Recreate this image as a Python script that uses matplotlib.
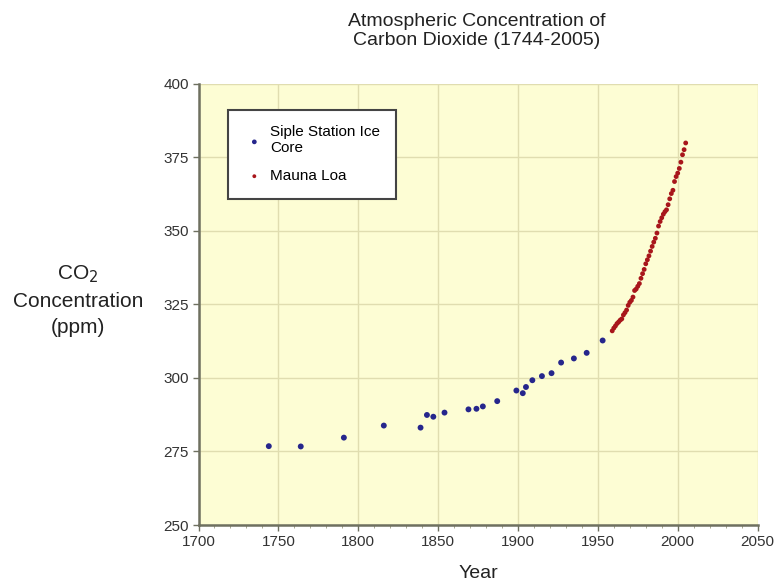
import numpy as np
import matplotlib
matplotlib.use('Agg')
import matplotlib.pyplot as plt
from matplotlib.ticker import MultipleLocator

plt.rcParams['font.family'] = ['Liberation Sans', 'DejaVu Sans']

# Siple Station ice core
siple_years = [1744, 1764, 1791, 1816, 1839, 1843, 1847, 1854, 1869, 1874, 1878,
               1887, 1899, 1903, 1905, 1909, 1915, 1921, 1927, 1935, 1943, 1953]
siple_ppm = [276.8, 276.7, 279.7, 283.8, 283.1, 287.4, 286.8, 288.2, 289.3, 289.5, 290.3,
             292.1, 295.7, 294.8, 296.9, 299.2, 300.6, 301.6, 305.2, 306.6, 308.5, 312.7]

# Mauna Loa annual means
mauna_years = list(range(1959, 2006))
mauna_ppm = [315.97, 316.91, 317.64, 318.45, 318.99, 319.62, 320.04, 321.38, 322.16, 323.04,
             324.62, 325.68, 326.32, 327.45, 329.68, 330.18, 331.11, 332.04, 333.83, 335.40,
             336.84, 338.75, 340.11, 341.45, 343.05, 344.65, 346.12, 347.42, 349.19, 351.57,
             353.12, 354.39, 355.61, 356.45, 357.10, 358.83, 360.82, 362.61, 363.73, 366.70,
             368.38, 369.55, 371.14, 373.28, 375.80, 377.52, 379.80]

fig = plt.figure(figsize=(7.77, 5.86), dpi=100)
ax = fig.add_axes([0.2555, 0.104, 0.7195, 0.7535])
ax.set_facecolor('#fdfdd4')

ax.scatter(siple_years, siple_ppm, s=18, color='#26268c', edgecolors='none',
           label='Siple Station Ice\nCore', zorder=3)
ax.scatter(mauna_years, mauna_ppm, s=12, color='#a8161b', edgecolors='none',
           label='Mauna Loa', zorder=3)

ax.set_xlim(1700, 2050)
ax.set_ylim(250, 400)
ax.set_xticks(np.arange(1700, 2051, 50))
ax.set_yticks(np.arange(250, 401, 25))
ax.xaxis.set_minor_locator(MultipleLocator(10))
ax.grid(True, color='#e0ddb0', linewidth=1)
ax.set_axisbelow(True)

for s in ['top', 'right']:
    ax.spines[s].set_visible(False)
for s in ['left', 'bottom']:
    ax.spines[s].set_color('#6e7060')
    ax.spines[s].set_linewidth(1.8)
ax.tick_params(colors='#6e7060', labelcolor='#333333', labelsize=11, length=4, width=1, pad=3)
ax.tick_params(axis='x', which='minor', length=2, colors='#9a9a80')

ax.set_xlabel('Year', fontsize=14, color='#222222', labelpad=12)
fig.text(0.1, 0.488, 'CO$_2$\nConcentration\n(ppm)', ha='center', va='center',
         fontsize=15, color='#222222', linespacing=1.45)
fig.text(0.613, 0.947, 'Atmospheric Concentration of\nCarbon Dioxide (1744-2005)',
         ha='center', va='center', fontsize=14, color='#222222', linespacing=1.1)

leg = ax.legend(loc='upper left', bbox_to_anchor=(0.052, 0.94), fontsize=11,
                frameon=True, fancybox=False, markerscale=0.8, handletextpad=0.3,
                handlelength=1.5, borderpad=1.0, labelspacing=0.9, borderaxespad=0)
leg.get_frame().set_edgecolor('#444444')
leg.get_frame().set_linewidth(1.5)
leg.get_frame().set_facecolor('white')
leg.get_frame().set_alpha(1)

fig.savefig('out.png', dpi=100)
